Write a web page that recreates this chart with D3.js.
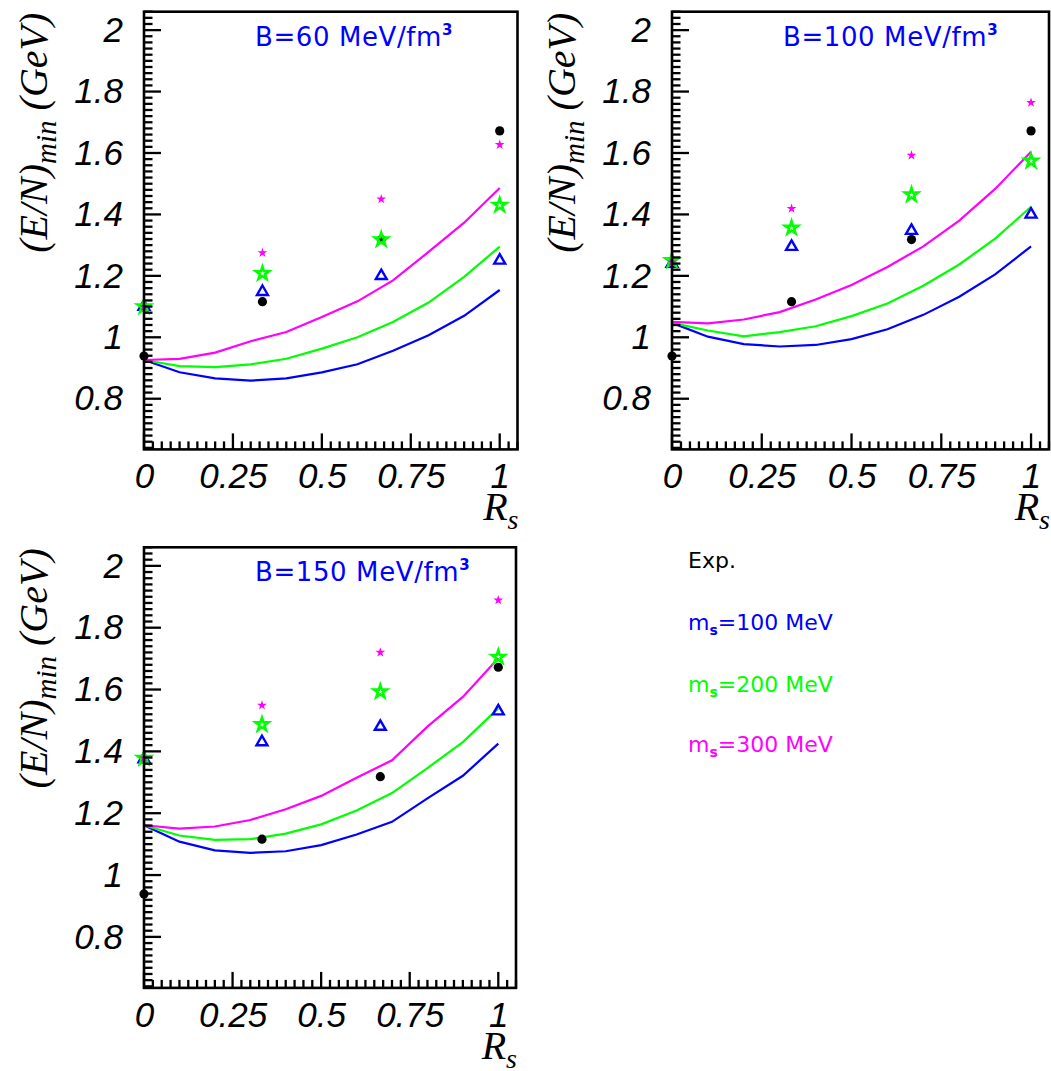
<!DOCTYPE html>
<html>
<head>
<meta charset="utf-8">
<script src="https://cdn.jsdelivr.net/npm/d3@7"></script>
<style>
  body { margin: 0; background: #fff; }
</style>
</head>
<body>
<div id="chart"></div>
<script>
// R_s grid of the model curves
const rsGrid = [0, 0.1, 0.2, 0.3, 0.4, 0.5, 0.6, 0.7, 0.8, 0.9, 1.0];
// R_s of the hadrons N, Lambda, Xi, Omega
const rsHadron = [0, 0.333, 0.667, 1];
const expMass = [0.939, 1.116, 1.318, 1.672];

const xTickLabels = ["0", "0.25", "0.5", "0.75", "1"];
const yTickLabels = ["0.8", "1", "1.2", "1.4", "1.6", "1.8", "2"];

// B = 60 MeV/fm^3
const curveB60ms100 = [0.926, 0.886, 0.866, 0.859, 0.866, 0.886, 0.912, 0.956, 1.007, 1.070, 1.154];
const curveB60ms200 = [0.926, 0.906, 0.903, 0.912, 0.930, 0.963, 1.000, 1.050, 1.113, 1.197, 1.295];
const curveB60ms300 = [0.926, 0.930, 0.950, 0.987, 1.017, 1.066, 1.117, 1.185, 1.278, 1.373, 1.486];
const pointsB60ms100 = [1.100, 1.148, 1.200, 1.250];
const pointsB60ms200 = [1.100, 1.208, 1.318, 1.430];
const pointsB60ms300 = [1.100, 1.275, 1.450, 1.627];

// B = 100 MeV/fm^3
const curveB100ms100 = [1.047, 1.002, 0.978, 0.970, 0.975, 0.994, 1.026, 1.073, 1.132, 1.205, 1.296];
const curveB100ms200 = [1.047, 1.022, 1.003, 1.017, 1.036, 1.069, 1.110, 1.168, 1.237, 1.321, 1.425];
const curveB100ms300 = [1.050, 1.045, 1.058, 1.082, 1.123, 1.170, 1.229, 1.296, 1.380, 1.483, 1.604];
const pointsB100ms100 = [1.240, 1.295, 1.347, 1.400];
const pointsB100ms200 = [1.250, 1.356, 1.464, 1.574];
const pointsB100ms300 = [1.245, 1.419, 1.592, 1.764];

// B = 150 MeV/fm^3
const curveB150ms100 = [1.161, 1.108, 1.080, 1.072, 1.077, 1.097, 1.131, 1.172, 1.248, 1.321, 1.425];
const curveB150ms200 = [1.161, 1.128, 1.114, 1.116, 1.134, 1.164, 1.209, 1.265, 1.346, 1.430, 1.539];
const curveB150ms300 = [1.161, 1.150, 1.157, 1.178, 1.213, 1.256, 1.315, 1.371, 1.480, 1.576, 1.701];
const pointsB150ms100 = [1.375, 1.430, 1.480, 1.530];
const pointsB150ms200 = [1.378, 1.487, 1.593, 1.705];
const pointsB150ms300 = [1.378, 1.549, 1.720, 1.889];

const legendLabels = ["Exp.", "100 MeV", "200 MeV", "300 MeV"];

const BLUE = "#0000ff", GREEN = "#00ff00", MAGENTA = "#ff00ff";

const svg = d3.select("#chart")
  .append("svg")
  .attr("width", 1051)
  .attr("height", 1071);

function drawPanel(p) {
  const x = d3.scaleLinear().domain([0, 1.05]).range([p.left, p.right]);
  const y = d3.scaleLinear().domain([0.635, 2.06]).range([p.bottom, p.top]);
  const g = svg.append("g");

  // model curves
  const line = d3.line().x((d, i) => x(rsGrid[i])).y(d => y(d));
  [[p.c100, BLUE], [p.c200, GREEN], [p.c300, MAGENTA]].forEach(([vals, col]) => {
    g.append("path")
      .datum(vals)
      .attr("fill", "none")
      .attr("stroke", col)
      .attr("stroke-width", 2.2)
      .attr("d", line);
  });

  // experimental masses
  g.selectAll("circle.exp").data(expMass).enter().append("circle")
    .attr("class", "exp")
    .attr("cx", (d, i) => x(rsHadron[i]))
    .attr("cy", d => y(d))
    .attr("r", 4.6)
    .attr("fill", "#000");

  const tri = d3.symbol(d3.symbolTriangle, 52)();
  g.selectAll("path.tri").data(p.p100).enter().append("path")
    .attr("class", "tri")
    .attr("d", tri)
    .attr("transform", (d, i) => `translate(${x(rsHadron[i])},${y(d)})`)
    .attr("fill", "none")
    .attr("stroke", BLUE)
    .attr("stroke-width", 2.4);

  const bigStar = d3.symbol(d3.symbolStar, 52)();
  g.selectAll("path.gstar").data(p.p200).enter().append("path")
    .attr("class", "gstar")
    .attr("d", bigStar)
    .attr("transform", (d, i) => `translate(${x(rsHadron[i])},${y(d)})`)
    .attr("fill", "none")
    .attr("stroke", GREEN)
    .attr("stroke-width", 2.6);

  const smallStar = d3.symbol(d3.symbolStar, 30)();
  g.selectAll("path.mstar").data(p.p300).enter().append("path")
    .attr("class", "mstar")
    .attr("d", smallStar)
    .attr("transform", (d, i) => `translate(${x(rsHadron[i])},${y(d)})`)
    .attr("fill", MAGENTA);

  // axes: labels from d3 axes, ticks drawn inward
  const yMajor = yTickLabels.map(Number);
  const xMajor = xTickLabels.map(Number);
  const yMinor = d3.range(0.64, 2.061, 0.02).filter(v => !yMajor.some(m => Math.abs(m - v) < 1e-6));
  const xMinor = d3.range(0, 1.051, 0.025).filter(v => !xMajor.some(m => Math.abs(m - v) < 1e-6));

  g.append("g").attr("transform", `translate(${p.left},0)`)
    .call(d3.axisLeft(y).tickValues(yMajor).tickSize(0).tickPadding(21)
      .tickFormat((d, i) => yTickLabels[i]));
  g.append("g").attr("transform", `translate(0,${p.bottom})`)
    .call(d3.axisBottom(x).tickValues(xMajor).tickSize(0).tickPadding(14)
      .tickFormat((d, i) => xTickLabels[i]));
  g.selectAll(".domain").remove();
  g.selectAll(".tick line").remove();
  g.selectAll(".tick text")
    .attr("fill", "#000")
    .style("font-family", "'Liberation Sans', Arial, sans-serif")
    .style("font-style", "italic")
    .style("font-size", "35px");

  const ticks = g.append("g").attr("stroke", "#000").attr("stroke-width", 2.3);
  const yTicks = yMajor.map(v => [v, 17]).concat(yMinor.map(v => [v, 8.5]));
  ticks.selectAll("line.yt").data(yTicks).enter().append("line")
    .attr("class", "yt")
    .attr("x1", p.left).attr("x2", d => p.left + d[1])
    .attr("y1", d => y(d[0])).attr("y2", d => y(d[0]));
  const xTicks = xMajor.map(v => [v, 16]).concat(xMinor.map(v => [v, 8]));
  ticks.selectAll("line.xt").data(xTicks).enter().append("line")
    .attr("class", "xt")
    .attr("x1", d => x(d[0])).attr("x2", d => x(d[0]))
    .attr("y1", p.bottom).attr("y2", d => p.bottom - d[1]);

  // frame
  g.append("rect")
    .attr("x", p.left).attr("y", p.top)
    .attr("width", p.right - p.left).attr("height", p.bottom - p.top)
    .attr("fill", "none").attr("stroke", "#000").attr("stroke-width", 2.6);

  // y title
  const yt = g.append("text")
    .attr("transform", `translate(${p.left - 97},${p.top + 1}) rotate(-90)`)
    .attr("text-anchor", "end")
    .style("font-family", "'Liberation Serif', 'Times New Roman', serif")
    .style("font-style", "italic")
    .style("font-size", "40px")
    .attr("fill", "#000");
  yt.append("tspan").text("(E/N)");
  yt.append("tspan").attr("dy", 9).style("font-size", "29px").text("min");
  yt.append("tspan").attr("dy", -9).text(" (GeV)");

  // x title
  const xt = g.append("text")
    .attr("x", p.right + 1).attr("y", p.bottom + 71)
    .attr("text-anchor", "end")
    .style("font-family", "'Liberation Serif', 'Times New Roman', serif")
    .style("font-style", "italic")
    .style("font-size", "40px")
    .attr("fill", "#000");
  xt.append("tspan").text("R");
  xt.append("tspan").attr("dy", 9).style("font-size", "28px").text("s");

  // panel label
  const pt = g.append("text")
    .attr("x", p.left + 111).attr("y", p.top + 34)
    .style("font-family", "'DejaVu Sans', sans-serif")
    .style("font-size", "26px")
    .attr("letter-spacing", 0.6)
    .attr("fill", BLUE);
  pt.append("tspan").text(p.label);
  pt.append("tspan").attr("dy", -11).style("font-size", "15px").style("font-weight", "bold").text("3");
}

drawPanel({ left: 144, right: 517.5, top: 11.7, bottom: 449.4, label: "B=60 MeV/fm",
  c100: curveB60ms100, c200: curveB60ms200, c300: curveB60ms300,
  p100: pointsB60ms100, p200: pointsB60ms200, p300: pointsB60ms300 });
drawPanel({ left: 672, right: 1049, top: 11.7, bottom: 449.4, label: "B=100 MeV/fm",
  c100: curveB100ms100, c200: curveB100ms200, c300: curveB100ms300,
  p100: pointsB100ms100, p200: pointsB100ms200, p300: pointsB100ms300 });
drawPanel({ left: 144, right: 516, top: 547.3, bottom: 987.9, label: "B=150 MeV/fm",
  c100: curveB150ms100, c200: curveB150ms200, c300: curveB150ms300,
  p100: pointsB150ms100, p200: pointsB150ms200, p300: pointsB150ms300 });

// legend (text only)
const legend = svg.append("g")
  .style("font-family", "'DejaVu Sans', sans-serif")
  .style("font-size", "22px");
legend.append("text").attr("x", 688).attr("y", 568).attr("fill", "#000").text(legendLabels[0]);
[[BLUE, 630], [GREEN, 692], [MAGENTA, 752]].forEach(([col, yy], i) => {
  const t = legend.append("text").attr("x", 688).attr("y", yy).attr("fill", col);
  t.append("tspan").text("m");
  t.append("tspan").attr("dy", 5).style("font-size", "14px").style("font-weight", "bold").text("s");
  t.append("tspan").attr("dy", -5).text("=" + legendLabels[i + 1]);
});
</script>
</body>
</html>
